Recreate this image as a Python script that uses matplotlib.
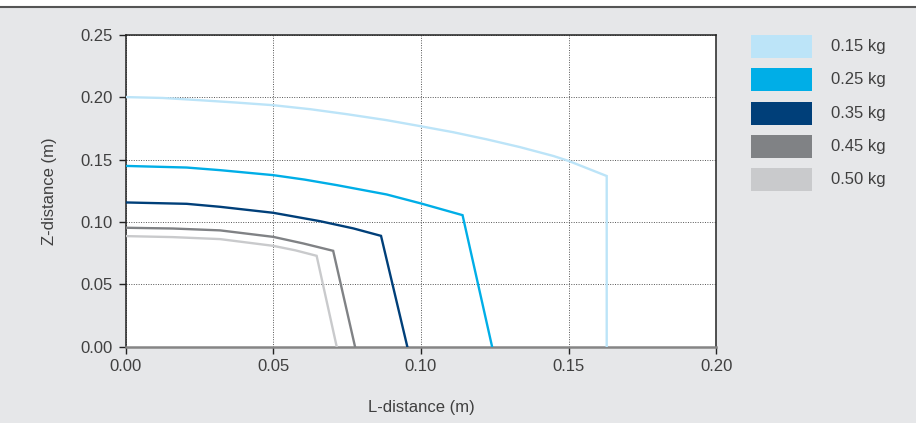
import matplotlib.pyplot as plt
from matplotlib.patches import Rectangle
from matplotlib.lines import Line2D

plt.rcParams['font.family'] = ['Liberation Sans', 'DejaVu Sans']

# readings from the chart, L-distance / Z-distance in metres
l_015 = [0.0, 0.0126, 0.0252, 0.0376, 0.05, 0.0625, 0.0749, 0.0884, 0.10,
         0.111, 0.1223, 0.1335, 0.1448, 0.15, 0.1629, 0.1629]
z_015 = [0.2002, 0.1995, 0.1977, 0.1958, 0.1937, 0.1905, 0.1865, 0.1817, 0.1768,
         0.1720, 0.1663, 0.1601, 0.1530, 0.1490, 0.1369, 0.0]

l_025 = [0.0, 0.0207, 0.032, 0.05, 0.0607, 0.0715, 0.0884, 0.10, 0.1141, 0.1241]
z_025 = [0.1450, 0.1437, 0.1416, 0.1376, 0.1340, 0.1296, 0.1221, 0.1149, 0.1055, 0.0]

l_035 = [0.0, 0.0207, 0.032, 0.05, 0.0658, 0.0771, 0.0865, 0.0954]
z_035 = [0.1157, 0.1146, 0.1122, 0.1074, 0.1007, 0.0949, 0.0889, 0.0]

l_045 = [0.0, 0.016, 0.032, 0.05, 0.0602, 0.0703, 0.0777]
z_045 = [0.0954, 0.0948, 0.0933, 0.0881, 0.0828, 0.0769, 0.0]

l_050 = [0.0, 0.016, 0.032, 0.05, 0.0575, 0.0647, 0.0715]
z_050 = [0.0887, 0.0879, 0.0863, 0.0809, 0.0773, 0.0729, 0.0]

series = [
    (l_015, z_015, '0.15 kg', '#bce4f8'),
    (l_025, z_025, '0.25 kg', '#00aee7'),
    (l_035, z_035, '0.35 kg', '#003f79'),
    (l_045, z_045, '0.45 kg', '#808285'),
    (l_050, z_050, '0.50 kg', '#c9cacc'),
]

x_ticks = [0.0, 0.05, 0.10, 0.15, 0.20]
y_ticks = [0.0, 0.05, 0.10, 0.15, 0.20, 0.25]

bg = '#e6e7e9'
txt = '#404040'

fig = plt.figure(figsize=(9.16, 4.23), dpi=100)
fig.patch.set_facecolor(bg)

# white strip and dark rule along the top edge
fig.patches.append(Rectangle((0, 1 - 7 / 423), 1, 7 / 423, transform=fig.transFigure,
                             facecolor='white', edgecolor='none', zorder=0))
fig.lines.append(Line2D([0, 1], [1 - 7.5 / 423] * 2, transform=fig.transFigure,
                        color='#555555', linewidth=1.5))

ax = fig.add_axes([125.5 / 916, 76.3 / 423, 590.8 / 916, 311.7 / 423])
ax.set_facecolor('white')

for lx, lz, lab, col in series:
    ax.plot(lx, lz, color=col, linewidth=1.7, solid_joinstyle='miter', zorder=3)

ax.set_xlim(0, 0.20)
ax.set_ylim(0, 0.25)
ax.set_xticks(x_ticks)
ax.set_yticks(y_ticks)
ax.set_xticklabels([f'{v:.2f}' for v in x_ticks])
ax.set_yticklabels([f'{v:.2f}' for v in y_ticks])

ax.grid(True, color='#555555', linestyle=(0, (1, 1.5)), linewidth=0.7, zorder=1)
ax.tick_params(direction='out', length=5, width=1, color='#222222',
               labelsize=12, labelcolor=txt, pad=4)

for side in ['left', 'top', 'right']:
    ax.spines[side].set_color('#222222')
    ax.spines[side].set_linewidth(1.1)
ax.spines['bottom'].set_color('#858585')
ax.spines['bottom'].set_linewidth(1.8)

ax.set_xlabel('L-distance (m)', fontsize=12, color=txt)
ax.set_ylabel('Z-distance (m)', fontsize=12, color=txt)
ax.xaxis.set_label_coords(0.5, -0.171)
ax.yaxis.set_label_coords(-0.116, 0.5)

# legend drawn as swatches on the right
for i, (lx, lz, lab, col) in enumerate(series):
    top = 35 + i * 33.3
    fig.patches.append(Rectangle((751 / 916, 1 - (top + 23) / 423), 61 / 916, 23 / 423,
                                 transform=fig.transFigure, facecolor=col,
                                 edgecolor='none'))
    fig.text(831 / 916, 1 - (top + 11.5) / 423, lab, fontsize=12, color=txt,
             ha='left', va='center')

fig.savefig('out.png', dpi=100, facecolor=bg)
